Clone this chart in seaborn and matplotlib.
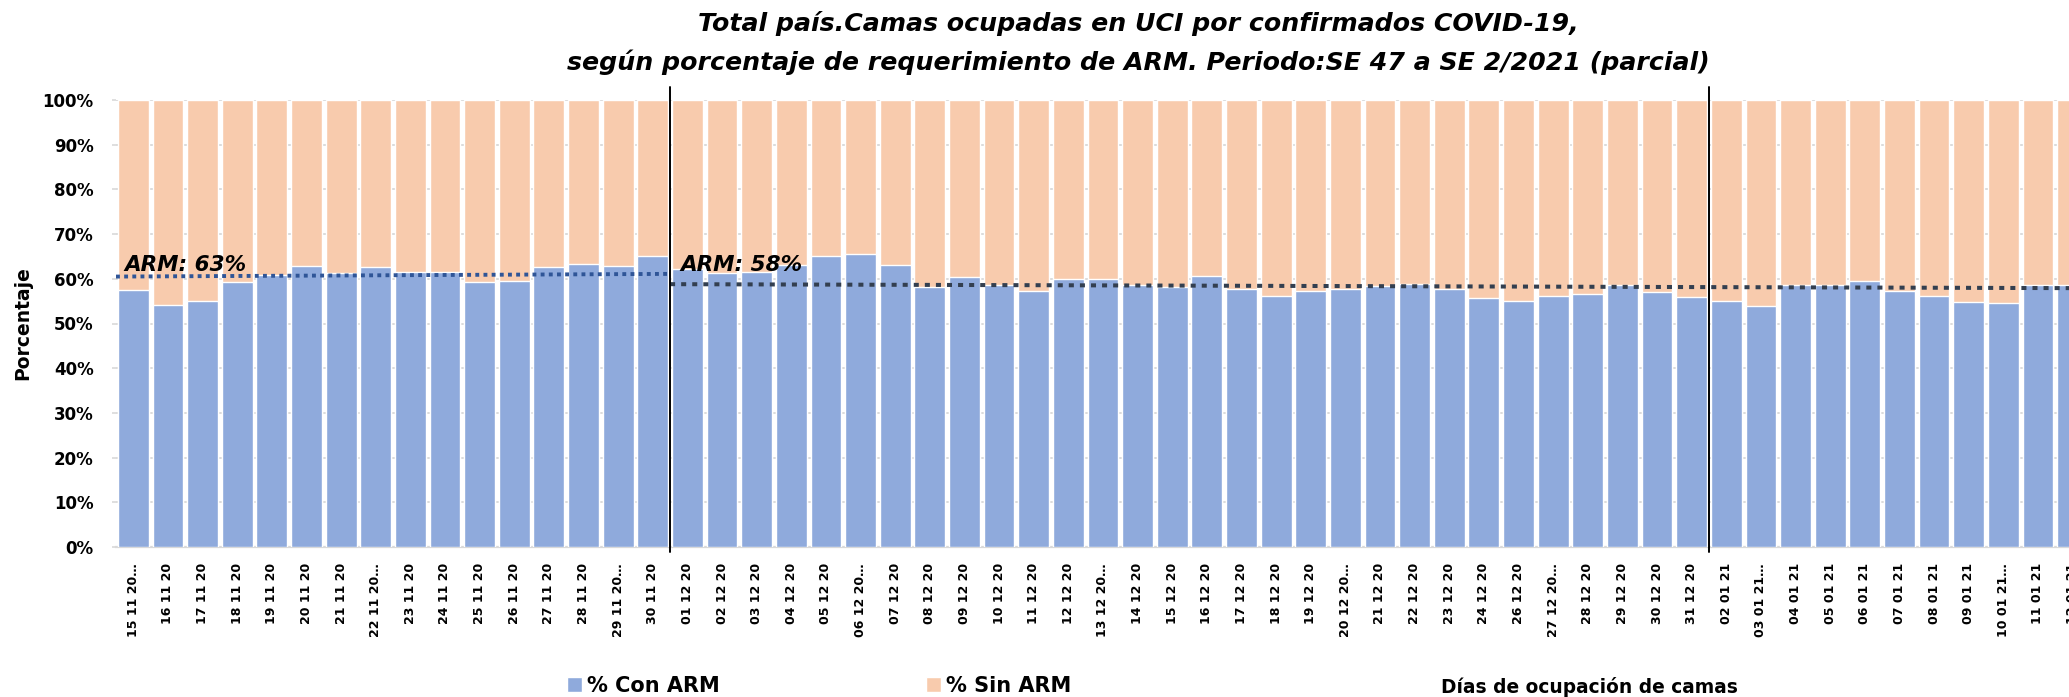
import numpy as np
import pandas as pd
import matplotlib
matplotlib.use("Agg")
import matplotlib.pyplot as plt
import seaborn as sns
from matplotlib.patches import Patch

# ---------------- data ----------------
dias = [
    "15 11 20…", "16 11 20", "17 11 20", "18 11 20", "19 11 20", "20 11 20", "21 11 20",
    "22 11 20…", "23 11 20", "24 11 20", "25 11 20", "26 11 20", "27 11 20", "28 11 20",
    "29 11 20…", "30 11 20",
    "01 12 20", "02 12 20", "03 12 20", "04 12 20", "05 12 20", "06 12 20…", "07 12 20",
    "08 12 20", "09 12 20", "10 12 20", "11 12 20", "12 12 20", "13 12 20…", "14 12 20",
    "15 12 20", "16 12 20", "17 12 20", "18 12 20", "19 12 20", "20 12 20…", "21 12 20",
    "22 12 20", "23 12 20", "24 12 20", "26 12 20", "27 12 20…", "28 12 20", "29 12 20",
    "30 12 20", "31 12 20",
    "02 01 21", "03 01 21…", "04 01 21", "05 01 21", "06 01 21", "07 01 21", "08 01 21",
    "09 01 21", "10 01 21…", "11 01 21", "12 01 21",
]

con_arm = [
    57.6, 54.2, 55.1, 59.2, 60.9, 62.9, 61.2, 62.6, 61.5, 61.5, 59.2, 59.6, 62.6, 63.2, 62.9, 65.0,
    62.3, 61.2, 61.5, 63.1, 65.0, 65.6, 63.1, 58.1, 60.4, 58.7, 57.2, 59.9, 59.9, 58.7,
    58.1, 60.7, 57.7, 56.2, 57.3, 57.7, 58.3, 58.8, 57.7, 55.6, 55.1, 56.2, 56.7, 58.7,
    57.0, 55.9,
    55.1, 54.0, 58.7, 58.7, 59.4, 57.3, 56.2, 54.9, 54.6, 58.7, 58.7,
]
sin_arm = [round(100 - v, 1) for v in con_arm]

# dotted ARM reference lines (start level, end level) per period
arm_nov = [60.5, 61.1]
arm_dic_ene = [58.8, 57.9]
arm_textos = ["ARM: 63%", "ARM: 58%"]

titulo1 = "Total país.Camas ocupadas en UCI por confirmados COVID-19,"
titulo2 = "según porcentaje de requerimiento de ARM. Periodo:SE 47 a SE 2/2021 (parcial)"

# ---------------- style ----------------
sns.set_theme(style="white")
plt.rcParams["font.family"] = ["DejaVu Sans"]
plt.rcParams["text.color"] = "black"
plt.rcParams["xtick.labelcolor"] = "black"
plt.rcParams["ytick.labelcolor"] = "black"

C_CON = "#8FAADC"
C_SIN = "#F8CBAD"

W, H = 2069, 697
fig = plt.figure(figsize=(W / 100, H / 100), dpi=100)
n = len(dias)
step = 34.63
ax = fig.add_axes([116 / W, 150 / H, n * step / W, 447 / H])

df = pd.DataFrame({"dia": dias, "con": con_arm,
                   "total": [c + s for c, s in zip(con_arm, sin_arm)]})

sns.barplot(data=df, x="dia", y="total", color=C_SIN, saturation=1, width=0.89,
            errorbar=None, ax=ax, zorder=2)
sns.barplot(data=df, x="dia", y="con", color=C_CON, saturation=1, width=0.89,
            errorbar=None, ax=ax, zorder=3)

ax.set_xlim(-0.5, n - 0.5)
ax.set_ylim(0, 100)
ax.set_xlabel("")
ax.set_ylabel("")

# period cuts
corte1 = dias.index("01 12 20") - 0.5
corte2 = dias.index("02 01 21") - 0.5

ax.plot([-0.5, corte1], arm_nov, color="#2F5597", lw=2.8,
        linestyle=(0, (1, 1.1)), zorder=4)
ax.plot([corte1, n - 0.5], arm_dic_ene, color="#333F50", lw=2.9,
        linestyle=(0, (1.25, 1.5)), zorder=4)

for xc in (corte1, corte2):
    ax.axvline(xc, ymin=-0.012, ymax=1.03, color="black", lw=1.4,
               clip_on=False, zorder=5)

ax.text(-0.25, 61.8, arm_textos[0], fontsize=15.5, fontweight="bold",
        fontstyle="italic", va="baseline", ha="left", zorder=6, color="black")
ax.text(corte1 + 0.3, 61.8, arm_textos[1], fontsize=15.5, fontweight="bold",
        fontstyle="italic", va="baseline", ha="left", zorder=6, color="black")

# axes styling
yt = np.arange(0, 101, 10)
ax.set_yticks(yt)
ax.set_yticklabels([f"{t}%" for t in yt], fontsize=12, fontweight="bold", color="black")
ax.set_xticks(range(n))
ax.set_xticklabels(dias, rotation=90, fontsize=9, fontweight="bold", color="black")
ax.tick_params(axis="y", length=3, color="#D9D9D9", width=1.2, pad=13, left=True)
ax.tick_params(axis="x", length=0, pad=11.5)
ax.yaxis.grid(True, color="#D9D9D9", lw=1.3)
ax.xaxis.grid(False)
ax.set_axisbelow(True)
for s in ("top", "right", "left"):
    ax.spines[s].set_visible(False)
ax.spines["bottom"].set_color("#D9D9D9")
ax.spines["bottom"].set_linewidth(1.6)

# titles and labels
fig.text(1138 / W, 1 - 24 / H, titulo1, ha="center", va="center", color="black",
         fontsize=18.2, fontweight="bold", fontstyle="italic")
fig.text(1138 / W, 1 - 62 / H, titulo2, ha="center", va="center", color="black",
         fontsize=18.2, fontweight="bold", fontstyle="italic")

fig.text(23 / W, 1 - 323 / H, "Porcentaje", rotation=90, ha="center", va="center",
         fontsize=13.5, fontweight="bold", color="black")
fig.text(1589 / W, 1 - 687 / H, "Días de ocupación de camas", ha="center", va="center",
         fontsize=13.4, fontweight="bold", color="black")

handles = [Patch(facecolor=C_CON, label="% Con ARM"),
           Patch(facecolor=C_SIN, label="% Sin ARM")]
leg = fig.legend(handles=handles, loc="center left", bbox_to_anchor=(567 / W, 1 - 686 / H),
                 ncol=2, frameon=False, prop={"size": 15, "weight": "bold"},
                 handlelength=0.72, handleheight=0.72, handletextpad=0.25,
                 columnspacing=9.9, borderaxespad=0, borderpad=0)
for t in leg.get_texts():
    t.set_color("black")

fig.savefig("out.png", dpi=100)
